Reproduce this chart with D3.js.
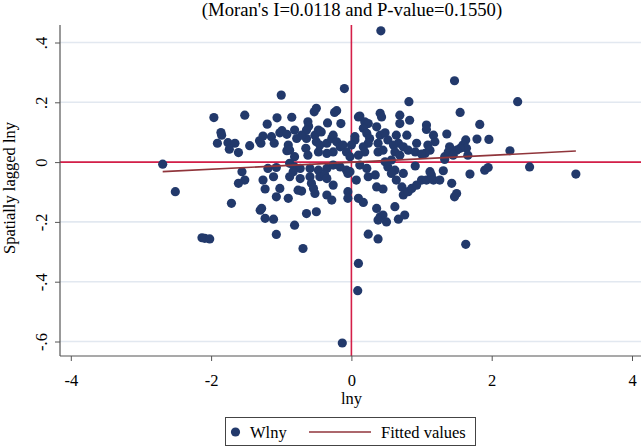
<!DOCTYPE html>
<html>
<head>
<meta charset="utf-8">
<script src="https://cdn.jsdelivr.net/npm/d3@7"></script>
<style>
  html, body { margin: 0; padding: 0; background: #ffffff; }
  svg { display: block; }
  text { font-family: "Liberation Serif", "Times New Roman", "DejaVu Serif", serif; fill: #000; }
</style>
</head>
<body>
<svg id="chart" width="644" height="448"></svg>
<script>
// ---------- data ----------
const title = "(Moran's I=0.0118 and P-value=0.1550)";
const xTitle = "lny";
const yTitle = "Spatially lagged lny";
const xTicks = [-4, -2, 0, 2, 4];
const xTickLabels = ["-4", "-2", "0", "2", "4"];
const yTicks = [-0.6, -0.4, -0.2, 0, 0.2, 0.4];
const yTickLabels = ["-.6", "-.4", "-.2", "0", ".2", ".4"];
const legendLabels = ["Wlny", "Fitted values"];

// lny (x) and Wlny (y) for each region
const lny = [
  -2.69, -2.51,
  -1.00, -0.10, -1.96, -1.52, -1.20, -1.06, -0.85, -0.53, -0.50, -0.24, -0.21, -0.15, -0.34, -0.62, -0.61,
  -1.86, -1.85, -1.91, -1.76, -1.66, -1.74, -1.61, -1.45, -1.31, -1.26, -1.29, -1.14, -1.10, -1.02, -0.99,
  -0.92, -0.90, -0.92, -0.81, -0.78, -0.64, -0.64, -0.65, -0.62, -0.52, -0.47, -0.43, -0.50, -0.45, -0.47,
  -0.35, -0.28, -0.26, -0.21, -0.16, -0.12, -0.07, -0.26, -0.35, -0.02, -0.88, -0.81, -0.71,
  -1.56, -1.19, -1.07, -0.88, -0.81, -0.73, -0.59, -0.47, -0.35, -0.26, -0.16, -0.07, -0.02,
  -1.52, -1.61, -1.26, -1.23, -1.11, -1.02, -1.07, -0.90, -0.88, -0.73, -0.76, -0.71, -0.59, -0.57, -0.54,
  -0.52, -0.45, -0.38, -0.35, -0.26, -0.35, -0.28, -0.05, -0.05, -0.05, -1.71, -1.30, -1.28, -1.23, -1.11,
  -0.64, -0.50, -0.81, -1.07, -0.69, -2.13, -2.09, -2.02, -0.83,
  1.47, 0.82, 1.55, 1.83, 1.96, 1.79, 2.26, 1.36, 1.63, 1.59, 1.64, 1.55, 1.50, 1.40, 1.33, 1.38, 1.45, 1.66,
  1.07, 1.07, 1.17, 1.19, 1.09, 1.12, 1.05, 0.41, 0.43, 0.69, 0.69, 0.83, 0.12, 0.19, 0.24, 0.17, 0.36,
  0.41, 0.48, 0.52, 0.38, 0.38, 0.45, 0.64, 0.79, 0.67, 0.74, 0.60, 0.62, 0.69, 0.81, 0.93, 0.91, 1.00,
  0.22, 0.26, 0.24, 0.17, 0.19, 0.10, 0.05, 0.00, 0.48, 0.57, 1.33, 2.37, 0.42, 0.10, 0.05,
  0.12, 0.22, 0.52, 0.62, 0.74, 0.91, 1.12, 1.31, 1.69, 1.90, 1.95, 0.07, 0.24, 0.34, 0.36, 0.45,
  0.10, 0.17, 0.36, 0.41, 0.45, 0.50, 0.38, 0.62, 0.67, 0.76, 0.57, 0.64, 0.72, 0.74, 0.81, 0.86, 0.93,
  1.00, 1.07, 1.14, 1.17, 1.26, 1.43, 1.50, 1.47, 0.24, 0.38, 1.63, 0.10, 0.09, -0.13, 2.54, 3.20
];
const wlny = [
  -0.007, -0.099,
  0.224, 0.246, 0.149, 0.157, 0.127, 0.148, 0.150, 0.168, 0.180, 0.166, 0.172, 0.129, 0.131, 0.135, 0.120,
  0.099, 0.090, 0.063, 0.065, 0.063, 0.043, 0.032, 0.055, 0.071, 0.087, 0.063, 0.085, 0.063, 0.098, 0.105,
  0.093, 0.057, 0.038, 0.107, 0.079, 0.107, 0.079, 0.046, 0.023, 0.090, 0.107, 0.101, 0.068, 0.057, 0.034,
  0.063, 0.079, 0.090, 0.068, 0.051, 0.057, 0.034, 0.034, 0.029, 0.018, 0.040, 0.018, 0.090,
  -0.032, -0.021, -0.018, -0.004, -0.016, -0.021, -0.021, -0.027, -0.021, -0.010, -0.016, -0.027, -0.032,
  -0.060, -0.071, -0.060, -0.090, -0.049, -0.088, -0.116, -0.121, -0.049, -0.055, -0.094, -0.097, -0.049, -0.071, -0.088,
  -0.105, -0.049, -0.043, -0.055, -0.077, -0.110, -0.127, -0.038, -0.099, -0.121, -0.138, -0.161, -0.155, -0.188, -0.191,
  -0.172, -0.166, -0.211, -0.242, -0.289, -0.253, -0.255, -0.257, -0.032,
  0.272, 0.202, 0.166, 0.126, 0.076, 0.077, 0.038, 0.094, 0.074, 0.057, 0.046, 0.046, 0.040, 0.051, 0.018, 0.034, 0.023, 0.023,
  0.124, 0.109, 0.090, 0.068, 0.057, 0.040, 0.029, 0.163, 0.151, 0.157, 0.129, 0.140, 0.154, 0.135, 0.129, 0.113, 0.118,
  0.090, 0.098, 0.074, 0.063, 0.034, 0.040, 0.090, 0.090, 0.063, 0.051, 0.057, 0.034, 0.023, 0.040, 0.063, 0.034, 0.027,
  0.096, 0.079, 0.063, 0.051, 0.034, 0.023, 0.074, 0.057, 0.001, 0.007, 0.009, 0.202, 0.439, 0.151, 0.085,
  -0.010, -0.021, -0.016, -0.027, -0.038, -0.013, -0.032, -0.029, -0.040, -0.027, -0.018, -0.060, -0.049, -0.043, -0.083, -0.090,
  -0.121, -0.135, -0.155, -0.183, -0.177, -0.200, -0.194, -0.149, -0.191, -0.177, -0.038, -0.060, -0.083, -0.110, -0.099, -0.088, -0.077,
  -0.060, -0.060, -0.043, -0.060, -0.060, -0.071, -0.105, -0.116, -0.241, -0.257, -0.275, -0.339, -0.430, -0.605, -0.016, -0.040
];
// fitted line end points
const fitX = [-2.69, 3.20];
const fitY = [-0.032, 0.037];

// ---------- drawing ----------
const svg = d3.select("#chart");
const W = 644, H = 448;
const plot = { left: 60, right: 641, top: 25, bottom: 356 };

const x = d3.scaleLinear().domain([-4, 4]).range([70.8, 632]);
const y = d3.scaleLinear().domain([-0.6, 0.4]).range([341.5, 42.5]);

svg.append("rect").attr("width", W).attr("height", H).attr("fill", "#ffffff");

const navy = "#22396b";
const red = "#d41f48";
const maroon = "#90353b";
const grid = "#e2e8f0";
const axisCol = "#555555";
const fontSize = 16.5;

// gridlines
svg.append("g").selectAll("line").data(yTicks).join("line")
  .attr("x1", plot.left).attr("x2", plot.right)
  .attr("y1", d => y(d)).attr("y2", d => y(d))
  .attr("stroke", grid).attr("stroke-width", 1.6);

// reference lines at 0
svg.append("line")
  .attr("x1", plot.left).attr("x2", plot.right)
  .attr("y1", y(0)).attr("y2", y(0))
  .attr("stroke", red).attr("stroke-width", 1.6);
svg.append("line")
  .attr("x1", x(0)).attr("x2", x(0))
  .attr("y1", plot.top).attr("y2", plot.bottom)
  .attr("stroke", red).attr("stroke-width", 1.6);

// scatter points
const pts = lny.map((v, i) => ({ x: v, y: wlny[i] }));
svg.append("g").selectAll("circle").data(pts).join("circle")
  .attr("cx", d => x(d.x)).attr("cy", d => y(d.y))
  .attr("r", 4.6).attr("fill", navy);

// fitted line
svg.append("path")
  .datum(fitX.map((v, i) => [v, fitY[i]]))
  .attr("d", d3.line().x(d => x(d[0])).y(d => y(d[1])))
  .attr("fill", "none").attr("stroke", maroon).attr("stroke-width", 1.6);

// axes
const xAxis = d3.axisBottom(x).tickValues(xTicks).tickFormat((d, i) => xTickLabels[i])
  .tickSizeInner(5).tickSizeOuter(0).tickPadding(4);
const gx = svg.append("g").attr("transform", `translate(0,${plot.bottom})`).call(xAxis);
gx.select(".domain").remove();
gx.selectAll(".tick line").attr("stroke", axisCol).attr("stroke-width", 1);
gx.selectAll(".tick text").attr("font-size", fontSize)
  .attr("font-family", "'Liberation Serif', 'Times New Roman', serif")
  .attr("fill", "#000").attr("dy", null).attr("y", 30);

const yAxis = d3.axisLeft(y).tickValues(yTicks).tickFormat((d, i) => yTickLabels[i])
  .tickSizeInner(5).tickSizeOuter(0);
const gy = svg.append("g").attr("transform", `translate(${plot.left},0)`).call(yAxis);
gy.select(".domain").remove();
gy.selectAll(".tick line").attr("stroke", axisCol).attr("stroke-width", 1);
gy.selectAll(".tick text")
  .attr("font-size", fontSize)
  .attr("font-family", "'Liberation Serif', 'Times New Roman', serif")
  .attr("fill", "#000")
  .attr("x", null).attr("dy", null)
  .attr("text-anchor", "middle")
  .attr("transform", "translate(-13,0) rotate(-90)");

// axis lines
svg.append("line").attr("x1", plot.left).attr("x2", plot.left)
  .attr("y1", plot.top).attr("y2", plot.bottom)
  .attr("stroke", axisCol).attr("stroke-width", 1.2);
svg.append("line").attr("x1", plot.left).attr("x2", plot.right)
  .attr("y1", plot.bottom).attr("y2", plot.bottom)
  .attr("stroke", axisCol).attr("stroke-width", 1.2);

// titles
svg.append("text").attr("x", 352).attr("y", 16)
  .attr("text-anchor", "middle").attr("font-size", 18.7).text(title);
svg.append("text").attr("x", 351.5).attr("y", 404)
  .attr("text-anchor", "middle").attr("font-size", fontSize).text(xTitle);
svg.append("text")
  .attr("transform", "translate(15,188) rotate(-90)")
  .attr("text-anchor", "middle").attr("font-size", fontSize).text(yTitle);

// legend
const lg = svg.append("g");
lg.append("rect").attr("x", 225.5).attr("y", 417.5).attr("width", 250).attr("height", 28)
  .attr("fill", "#fff").attr("stroke", "#444").attr("stroke-width", 1);
lg.append("circle").attr("cx", 235.5).attr("cy", 432).attr("r", 4.6).attr("fill", navy);
lg.append("text").attr("x", 250).attr("y", 437.5).attr("font-size", fontSize).text(legendLabels[0]);
lg.append("line").attr("x1", 309).attr("x2", 371).attr("y1", 432).attr("y2", 432)
  .attr("stroke", maroon).attr("stroke-width", 1.6);
lg.append("text").attr("x", 381).attr("y", 437.5).attr("font-size", fontSize).text(legendLabels[1]);
</script>
</body>
</html>
